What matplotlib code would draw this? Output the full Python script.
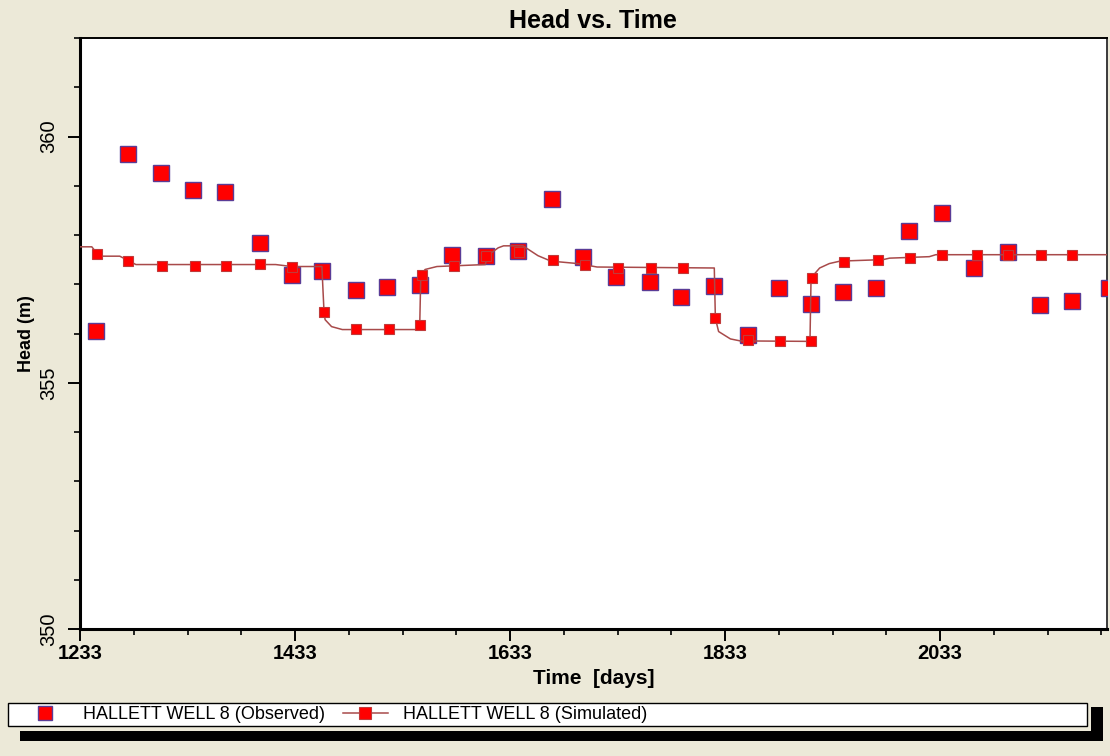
import matplotlib
matplotlib.use('Agg')
import matplotlib.pyplot as plt
from matplotlib.lines import Line2D
from matplotlib.patches import Rectangle
from matplotlib.ticker import MultipleLocator
from matplotlib import font_manager

# OBSERVED HEADS (big squares)
obs_t = [1248, 1278, 1308, 1338, 1368, 1400, 1430, 1458, 1490, 1519, 1549,
         1579, 1611, 1640, 1672, 1701, 1732, 1763, 1792, 1823, 1854, 1883,
         1913, 1943, 1973, 2004, 2035, 2065, 2096, 2126, 2156, 2190]
obs_h = [356.06, 359.65, 359.25, 358.92, 358.87, 357.83, 357.18, 357.27,
         356.88, 356.95, 356.98, 357.59, 357.58, 357.68, 358.73, 357.55,
         357.15, 357.04, 356.75, 356.96, 355.96, 356.92, 356.59, 356.84,
         356.92, 358.09, 358.44, 357.34, 357.65, 356.57, 356.67, 356.92]

# SIMULATED HEADS (small squares)
sim_t = [1249, 1278, 1309, 1340, 1369, 1400, 1430, 1460, 1490, 1520, 1549,
         1551, 1581, 1611, 1641, 1673, 1703, 1733, 1764, 1794, 1824, 1854,
         1884, 1913, 1914, 1944, 1975, 2005, 2035, 2067, 2096, 2127, 2156]
sim_h = [357.62, 357.48, 357.38, 357.38, 357.38, 357.42, 357.35, 356.43,
         356.10, 356.10, 356.17, 357.18, 357.38, 357.58, 357.66, 357.50,
         357.39, 357.33, 357.33, 357.33, 356.32, 355.86, 355.84, 355.84,
         357.13, 357.45, 357.50, 357.53, 357.60, 357.60, 357.60, 357.60,
         357.60]

# simulated curve between the markers
line_t = [1233, 1244, 1249, 1250, 1270, 1278, 1285, 1415, 1430, 1458, 1459,
          1460, 1461, 1467, 1477, 1545, 1549, 1550, 1554, 1565, 1610, 1612,
          1622, 1627, 1645, 1659, 1671, 1696, 1714, 1823, 1824, 1827, 1838,
          1847, 1912, 1913, 1921, 1930, 1940, 1980, 1986, 2023, 2029, 2190]
line_h = [357.76, 357.76, 357.62, 357.57, 357.57, 357.48, 357.40, 357.40,
          357.36, 357.36, 356.89, 356.43, 356.28, 356.14, 356.08, 356.08,
          356.17, 357.18, 357.30, 357.36, 357.40, 357.58, 357.74, 357.78,
          357.78, 357.58, 357.47, 357.42, 357.35, 357.33, 356.31, 356.04,
          355.89, 355.85, 355.84, 357.13, 357.33, 357.42, 357.47, 357.50,
          357.53, 357.56, 357.60, 357.60]

obs_label = 'HALLETT WELL 8 (Observed)'
sim_label = 'HALLETT WELL 8 (Simulated)'

# COLORES
bg = '#ece9d8'
red = '#ff0000'
obs_edge = '#5a3c96'
sim_edge = '#c03a3a'
line_col = '#a84a4a'

names = set(f.name for f in font_manager.fontManager.ttflist)
narrow = 'Liberation Sans Narrow' if 'Liberation Sans Narrow' in names else 'Liberation Sans'
plt.rcParams['font.family'] = ['Liberation Sans', 'DejaVu Sans']
ytick_size = 17 if narrow != 'Liberation Sans' else 14.5
ylab_size = 15 if narrow != 'Liberation Sans' else 13

W, H = 1110, 756
fig = plt.figure(figsize=(W / 100, H / 100), dpi=100, facecolor=bg)
ax = fig.add_axes([80 / W, 127 / H, 1026.7 / W, 591 / H])
ax.set_facecolor('white')

ax.plot(obs_t, obs_h, ls='none', marker='s', ms=12, mfc=red, mec=obs_edge, mew=1.0, zorder=3)
ax.plot(line_t, line_h, color=line_col, lw=1.1, zorder=4)
ax.plot(sim_t, sim_h, ls='none', marker='s', ms=7.6, mfc=red, mec=sim_edge, mew=0.8, zorder=5)

ax.set_xlim(1233, 2188)
ax.set_ylim(350, 362)
ax.xaxis.set_major_locator(MultipleLocator(200, offset=33))
ax.xaxis.set_minor_locator(MultipleLocator(50, offset=33))
ax.yaxis.set_major_locator(MultipleLocator(5))
ax.yaxis.set_minor_locator(MultipleLocator(1))

ax.tick_params(axis='both', which='major', direction='out', length=8.6, width=1.4, color='black')
ax.tick_params(axis='both', which='minor', direction='out', length=4.0, width=1.2, color='black')
ax.tick_params(axis='x', which='major', pad=2)
ax.tick_params(axis='y', which='major', pad=7)

for lab in ax.get_xticklabels():
    lab.set_fontweight('bold')
    lab.set_fontsize(14.5)
for lab in ax.get_yticklabels():
    lab.set_family(narrow)
    lab.set_fontsize(ytick_size)
    lab.set_rotation(90)
    lab.set_va('center')

ax.spines['left'].set_linewidth(2.2)
ax.spines['bottom'].set_linewidth(2.2)
ax.spines['top'].set_linewidth(1.4)
ax.spines['top'].set_color('black')
ax.spines['right'].set_linewidth(1.4)
ax.spines['right'].set_color('#3a3a3a')

ax.set_title('Head vs. Time', fontsize=18, fontweight='bold', pad=7)
ax.set_xlabel('Time  [days]', fontsize=15, fontweight='bold', va='top')
ax.xaxis.set_label_coords(0.5, -0.067)
ax.set_ylabel('Head (m)', fontsize=ylab_size, fontweight='bold', family=narrow)
ax.yaxis.set_label_coords(-0.044, 0.5)

# LEGEND (caja blanca + sombra negra)
fig.patches.append(Rectangle((8 / W, (H - 726) / H), 1079 / W, 23 / H, transform=fig.transFigure,
                             facecolor='white', edgecolor='black', lw=1.0, zorder=1))
fig.patches.append(Rectangle((20 / W, (H - 741) / H), 1083 / W, 10 / H, transform=fig.transFigure,
                             facecolor='black', edgecolor='none', zorder=1))
fig.patches.append(Rectangle((1091 / W, (H - 741) / H), 12 / W, 34 / H, transform=fig.transFigure,
                             facecolor='black', edgecolor='none', zorder=1))

h_obs = Line2D([], [], ls='none', marker='s', ms=10, mfc=red, mec=obs_edge, mew=1.0)
h_sim = Line2D([], [], color=line_col, lw=1.1, marker='s', ms=8.6, mfc=red, mec=sim_edge, mew=0.8)
fig.legend([h_obs, h_sim], [obs_label, sim_label], loc='center left',
           bbox_to_anchor=(22.5 / W, (H - 714.5) / H), ncol=2, frameon=False, fontsize=13,
           handlelength=2.5, handletextpad=0.83, columnspacing=1.0, borderpad=0, borderaxespad=0)

fig.savefig('out.png', dpi=100, facecolor=bg)
